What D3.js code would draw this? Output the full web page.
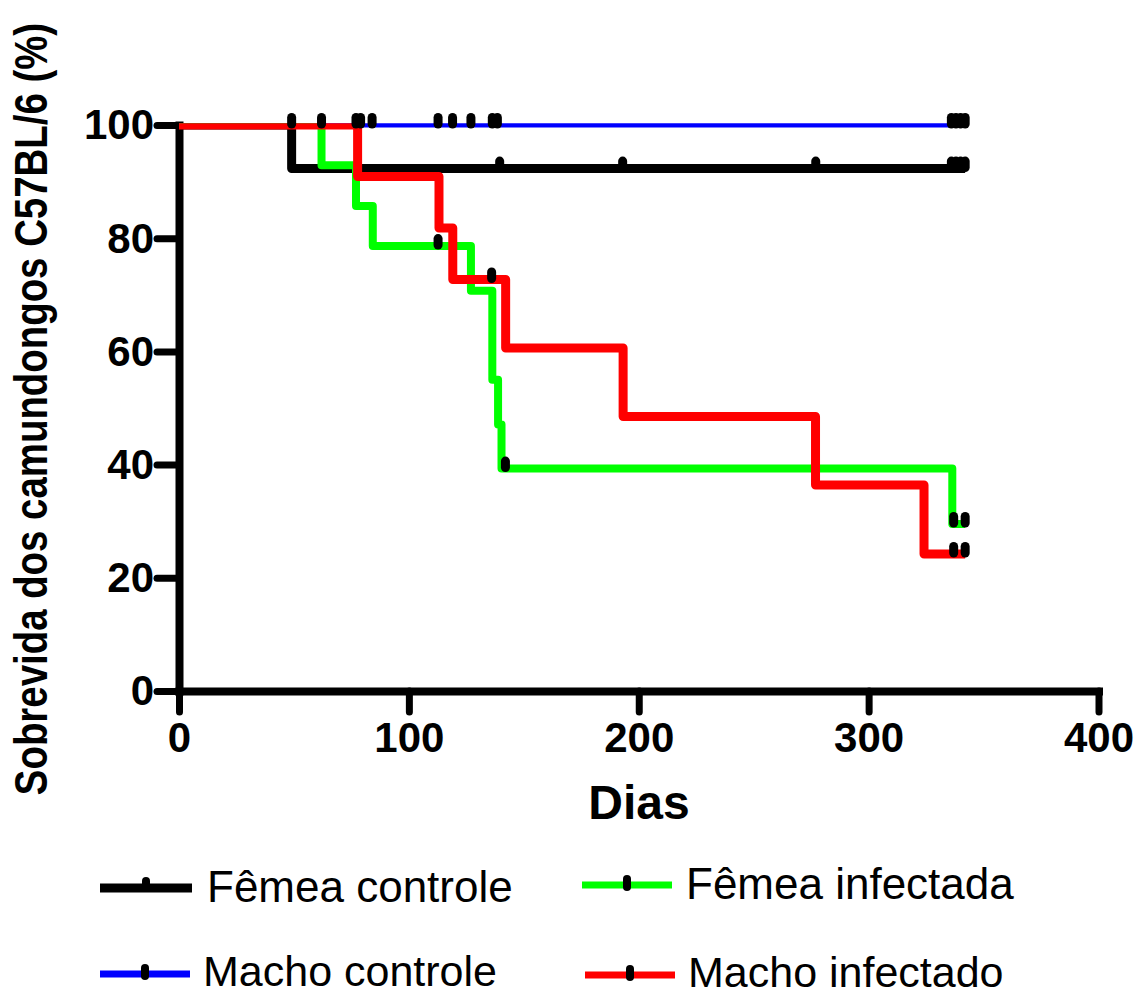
<!DOCTYPE html>
<html>
<head>
<meta charset="utf-8">
<script src="https://cdn.jsdelivr.net/npm/d3@7"></script>
<style>
  html, body { margin: 0; padding: 0; background: #fff; }
  svg { display: block; }
</style>
</head>
<body>
<svg id="chart" width="1138" height="997"></svg>
<script>
// ---------- data ----------
const xTicks = [0, 100, 200, 300, 400];
const yTicks = [0, 20, 40, 60, 80, 100];
const xTitle = "Dias";
const yTitle = "Sobrevida dos camundongos C57BL/6 (%)";

const seriesNames = ["Fêmea controle", "Macho controle", "Fêmea infectada", "Macho infectado"];
const seriesColors = ["#000000", "#0000ff", "#00ff00", "#ff0000"];

// Fêmea controle
const fcDays = [0, 49];
const fcSurv = [100, 92.3];
const fcEnd = 342;
const fcCensor = [139.5, 193, 277, 336, 338, 340, 342];

// Macho controle
const mcDays = [0];
const mcSurv = [100];
const mcEnd = 342;
const mcCensor = [49, 62, 77, 79, 84, 112.7, 119, 127, 136.3, 138.5, 336, 338, 340, 342];

// Fêmea infectada
const fiDays = [0, 62, 77, 84.3, 127, 136.3, 138.8, 140.3, 336.4];
const fiSurv = [100, 92.9, 85.7, 78.6, 70.7, 55.0, 47.1, 39.3, 29.5];
const fiEnd = 342;
const fiCensor = [112.7, 142, 337, 342];

// Macho infectado
const miDays = [0, 77.7, 113.1, 119.1, 142.1, 193.2, 276.9, 324.1];
const miSurv = [100, 90.9, 81.8, 72.7, 60.6, 48.5, 36.4, 24.2];
const miEnd = 342;
const miCensor = [136, 337, 342];

// ---------- chart ----------
const svg = d3.select("#chart");
const x = d3.scaleLinear().domain([0, 400]).range([179, 1098.5]);
const y = d3.scaleLinear().domain([0, 100]).range([691, 125]);

const series = [
  {name: seriesNames[0], color: seriesColors[0], days: fcDays, surv: fcSurv, end: fcEnd, censor: fcCensor, width: 9},
  {name: seriesNames[1], color: seriesColors[1], days: mcDays, surv: mcSurv, end: mcEnd, censor: mcCensor, width: 5},
  {name: seriesNames[2], color: seriesColors[2], days: fiDays, surv: fiSurv, end: fiEnd, censor: fiCensor, width: 8},
  {name: seriesNames[3], color: seriesColors[3], days: miDays, surv: miSurv, end: miEnd, censor: miCensor, width: 9}
];

function survAt(s, t) {
  let v = s.surv[0];
  for (let i = 0; i < s.days.length; i++) if (s.days[i] <= t) v = s.surv[i];
  return v;
}

// axes
const font = "'Liberation Sans', Arial, sans-serif";
const yAxis = d3.axisLeft(y).tickValues(yTicks).tickSize(22).tickSizeOuter(0).tickPadding(4);
const xAxis = d3.axisBottom(x).tickValues(xTicks).tickSize(21).tickSizeOuter(0).tickPadding(10);

const gy = svg.append("g").attr("transform", "translate(179,0)").call(yAxis);
const gx = svg.append("g").attr("transform", "translate(0,691)").call(xAxis);

[gx, gy].forEach(g => {
  g.select(".domain").attr("stroke", "#000").attr("stroke-width", 8).attr("stroke-linecap", "square");
  g.selectAll(".tick line").attr("stroke", "#000").attr("stroke-width", 7).attr("stroke-linecap", "round");
  g.selectAll(".tick text").attr("fill", "#000").attr("font-family", font)
    .attr("font-weight", "bold").attr("font-size", 42);
});
gy.selectAll(".tick text").attr("dy", "0.33em").attr("x", -25);
gx.selectAll(".tick text").attr("dy", "0.71em");

// titles
svg.append("text").attr("x", 639).attr("y", 819).attr("text-anchor", "middle")
  .attr("font-family", font).attr("font-weight", "bold").attr("font-size", 48).text(xTitle);
svg.append("text").attr("transform", "translate(47,409) rotate(-90) scale(0.835,1)").attr("text-anchor", "middle")
  .attr("font-family", font).attr("font-weight", "bold").attr("font-size", 46).text(yTitle);

// clip
svg.append("clipPath").attr("id", "plotclip").append("rect")
  .attr("x", 150).attr("y", 123.2).attr("width", 1000).attr("height", 600);

const line = d3.line().x(d => x(d[0])).y(d => y(d[1])).curve(d3.curveStepAfter);
const curves = svg.append("g").attr("clip-path", "url(#plotclip)");
series.forEach(s => {
  const pts = s.days.map((d, i) => [d, s.surv[i]]);
  pts.push([s.end, s.surv[s.surv.length - 1]]);
  curves.append("path").attr("d", line(pts)).attr("fill", "none")
    .attr("stroke", s.color).attr("stroke-width", s.width)
    .attr("stroke-linejoin", "round").attr("stroke-linecap", "butt");
});

// censor marks
const marks = svg.append("g");
series.forEach(s => {
  s.censor.forEach(t => {
    const yy = y(survAt(s, t));
    marks.append("line").attr("x1", x(t)).attr("x2", x(t))
      .attr("y1", yy - 7.5).attr("y2", yy - 1)
      .attr("stroke", "#000").attr("stroke-width", 9).attr("stroke-linecap", "round");
  });
});

// legend
const legendPos = [
  {lx0: 100, lx1: 192, ly: 888, tx: 207},
  {lx0: 100, lx1: 190, ly: 974, tx: 203},
  {lx0: 582, lx1: 672, ly: 885, tx: 686},
  {lx0: 585, lx1: 675, ly: 975, tx: 688}
];
const legend = svg.append("g");
series.forEach((s, i) => {
  const p = legendPos[i];
  legend.append("line").attr("x1", p.lx0).attr("x2", p.lx1).attr("y1", p.ly).attr("y2", p.ly)
    .attr("stroke", s.color).attr("stroke-width", i === 0 ? 9 : 7);
  const mx = (p.lx0 + p.lx1) / 2;
  legend.append("line").attr("x1", mx).attr("x2", mx)
    .attr("y1", p.ly - (i === 0 ? 7 : 6)).attr("y2", p.ly + (i === 0 ? 0 : 2))
    .attr("stroke", "#000").attr("stroke-width", 8).attr("stroke-linecap", "round");
  legend.append("text").attr("x", p.tx).attr("y", p.ly + (i % 2 === 1 ? 12 : 14))
    .attr("font-family", font).attr("font-size", i % 2 === 1 ? 43 : 44).text(s.name);
});
</script>
</body>
</html>
